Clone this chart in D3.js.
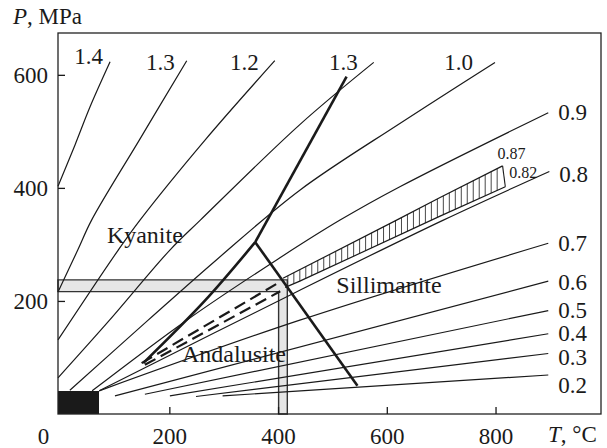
<!DOCTYPE html>
<html><head><meta charset="utf-8">
<script src="https://cdn.jsdelivr.net/npm/d3@7"></script>
<style>
html,body{margin:0;padding:0;background:#fff;}
svg text{font-family:"Liberation Serif","Times New Roman",Times,serif;fill:#1a1a1a;}
</style></head>
<body><svg id="c" width="607" height="448"></svg>
<script>
// ---- data (T in °C, P in MPa) ----
const xTicks = [200, 400, 600, 800];
const yTicks = [200, 400, 600];
const originLabel = "0";
const xTitle = ["T", ", °C"];
const yTitle = ["P", ", MPa"];

const iso14  = [[-4.8,403],[26.5,476],[54,543],[91,623]];
const iso13a = [[-4.8,216],[31.5,290],[57,343],[145,485],[232,625]];
const iso12  = [[-4.8,131],[106,290],[146,343],[266,485],[394,625]];
const iso11  = [[-4.8,64],[90,166],[201,290],[257,343],[440,512],[576,622]];
const iso10  = [[17,42],[161,166],[287,273],[440,396],[624,514],[799,622]];
const iso09  = [[58,41],[232,166],[398,273],[514,343],[624,402],[897,533]];
const iso08  = [[71,41],[440,219],[704,343],[899,429]];
const iso07  = [[71,41],[440,166],[897,302]];
const iso06  = [[100,32],[897,235]];
const iso05  = [[155,35],[897,183]];
const iso04  = [[201,32],[897,142]];
const iso03  = [[249,31],[897,107]];
const iso02  = [[298,32],[897,69]];
const topLines   = [iso14, iso13a, iso12, iso11, iso10];
const topLabels  = ["1.4", "1.3", "1.2", "1.3", "1.0"];
const sideLines  = [iso09, iso08, iso07, iso06, iso05, iso04, iso03, iso02];
const sideLabels = ["0.9", "0.8", "0.7", "0.6", "0.5", "0.4", "0.3", "0.2"];

const band087 = [[409,240],[618,343],[698,383],[813,439]];
const band082 = [[413,224],[440,235],[698,350],[818,402]];
const bandLabels = ["0.87", "0.82"];
const dashUpper = [[149,90],[404,234]];
const dashLower = [[155,87],[404,217]];

const kySil  = [[358,304],[526,597]];
const andSil = [[358,304],[546,50]];
const kyAnd  = [[358,304],[265,200],[152,90]];

const regionNames = ["Kyanite", "Andalusite", "Sillimanite"];
const regionAt    = [[155,303],[319,92],[604,214]];

const grayP = [216.5, 237.2];
const grayT = [401, 417];
const boxT = [-4.8, 70.6];
const boxP = [0, 40.7];

// ---- layout ----
const svg = d3.select("#c");
const x = d3.scaleLinear().domain([-4.8, 994]).range([58, 601]);
const y = d3.scaleLinear().domain([0, 674]).range([414, 33]);
const ink = "#1a1a1a";
const line = d3.line().x(d => x(d[0])).y(d => y(d[1])).curve(d3.curveCatmullRom.alpha(0.5));
const lineL = d3.line().x(d => x(d[0])).y(d => y(d[1]));

// gray L-shaped band
const t0 = x.domain()[0];
const gpts = [[t0,grayP[0]],[grayT[0],grayP[0]],[grayT[0],0],[grayT[1],0],[grayT[1],grayP[1]],[t0,grayP[1]]];
svg.append("path").attr("d", lineL(gpts) + "Z")
  .attr("fill", "#e6e6e6").attr("stroke", "#333").attr("stroke-width", 1.4);

// black box
svg.append("rect").attr("x", x(boxT[0])).attr("y", y(boxP[1]))
  .attr("width", x(boxT[1]) - x(boxT[0])).attr("height", y(boxP[0]) - y(boxP[1]))
  .attr("fill", ink);

// isolines
[...topLines, ...sideLines].forEach(l => {
  svg.append("path").attr("d", line(l)).attr("fill", "none").attr("stroke", ink).attr("stroke-width", 1.2);
});

// hatched band
function interp(arr, t) {
  for (let i = 0; i < arr.length - 1; i++) {
    const a = arr[i], b = arr[i+1];
    if (t >= a[0] && t <= b[0]) return a[1] + (b[1]-a[1]) * (t - a[0]) / (b[0]-a[0]);
  }
  return null;
}
const hatch = svg.append("g").attr("stroke", "#333").attr("stroke-width", 0.9);
for (let t = 418; t <= 812; t += 11) {
  const pu = interp(band087, t), pl = interp(band082, t);
  if (pu == null || pl == null) continue;
  hatch.append("line").attr("x1", x(t)).attr("x2", x(t)).attr("y1", y(pu)).attr("y2", y(pl));
}
[band087, band082].forEach(l => svg.append("path").attr("d", lineL(l)).attr("fill","none").attr("stroke", ink).attr("stroke-width", 1.2));
svg.append("line")
  .attr("x1", x(band087[band087.length-1][0])).attr("y1", y(band087[band087.length-1][1]))
  .attr("x2", x(band082[band082.length-1][0])).attr("y2", y(band082[band082.length-1][1]))
  .attr("stroke", ink).attr("stroke-width", 1.1);

// dashed lines
[dashUpper, dashLower].forEach(l => svg.append("path").attr("d", lineL(l)).attr("fill","none")
  .attr("stroke", ink).attr("stroke-width", 2.2).attr("stroke-dasharray", "12,6"));

// phase boundaries
[kySil, andSil, kyAnd].forEach(l => svg.append("path").attr("d", line(l)).attr("fill","none")
  .attr("stroke", ink).attr("stroke-width", 2.6).attr("stroke-linejoin","round"));

// frame
svg.append("rect").attr("x", 58).attr("y", 33).attr("width", 543).attr("height", 381)
  .attr("fill", "none").attr("stroke", "#222").attr("stroke-width", 1.3);

// axes
const ax = svg.append("g").attr("transform", "translate(0,414)")
  .call(d3.axisBottom(x).tickValues(xTicks).tickSize(-7).tickPadding(14).tickFormat(d3.format("d")));
const ay = svg.append("g").attr("transform", "translate(58,0)")
  .call(d3.axisLeft(y).tickValues(yTicks).tickSize(-7).tickPadding(10).tickFormat(d3.format("d")));
[ax, ay].forEach(g => {
  g.select(".domain").remove();
  g.selectAll("line").attr("stroke", ink).attr("stroke-width", 1.3);
  g.selectAll("text").attr("font-size", 23).attr("font-family", '"Liberation Serif","Times New Roman",serif').attr("fill", ink);
});
svg.append("text").attr("x", x(0) - 17).attr("y", 444).attr("text-anchor","middle").attr("font-size", 23).text(originLabel);

// axis titles
const yt = svg.append("text").attr("x", 13).attr("y", 24).attr("font-size", 23);
yt.append("tspan").attr("font-style","italic").text(yTitle[0]);
yt.append("tspan").text(yTitle[1]);
const xt = svg.append("text").attr("x", 548).attr("y", 442).attr("font-size", 23);
xt.append("tspan").attr("font-style","italic").text(xTitle[0]);
xt.append("tspan").text(xTitle[1]);

// isoline labels
const topOff = [[-7,2],[-12,9],[-16,9],[-16,8],[-22,8]];
topLines.forEach((l, i) => {
  const e = l[l.length-1];
  svg.append("text").attr("x", x(e[0]) + topOff[i][0]).attr("y", y(e[1]) + topOff[i][1])
    .attr("text-anchor","end").attr("font-size", 23).text(topLabels[i]);
});
const sideDy = [7, 11, 8, 9, 7, 7, 11, 18];
sideLines.forEach((l, i) => {
  const e = l[l.length-1];
  svg.append("text").attr("x", x(e[0]) + 10).attr("y", y(e[1]) + sideDy[i])
    .attr("font-size", 23).text(sideLabels[i]);
});
const bOff = [[-5,-7],[4,-9]];
[band087, band082].forEach((l, i) => {
  const e = l[l.length-1];
  svg.append("text").attr("x", x(e[0]) + bOff[i][0]).attr("y", y(e[1]) + bOff[i][1])
    .attr("font-size", 16).text(bandLabels[i]);
});

// region labels
regionNames.forEach((n, i) => {
  svg.append("text").attr("x", x(regionAt[i][0])).attr("y", y(regionAt[i][1]))
    .attr("text-anchor","middle").attr("font-size", 24).text(n);
});
</script></body></html>
